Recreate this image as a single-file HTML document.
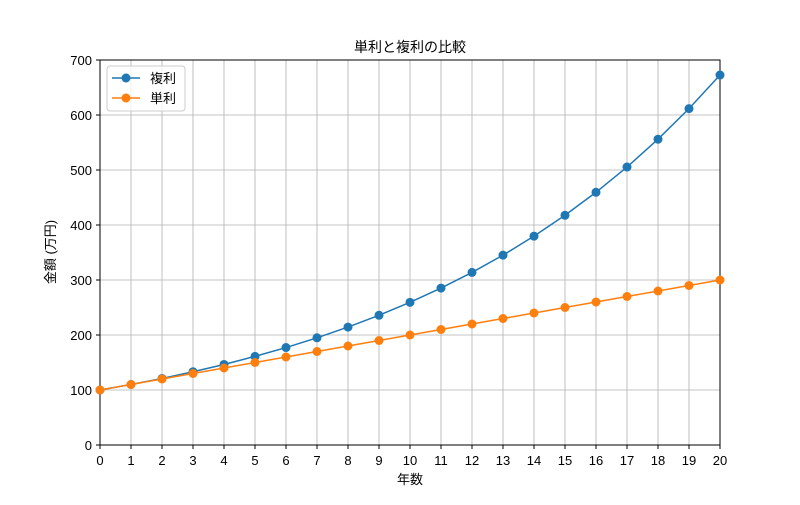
<!DOCTYPE html>
<html><head><meta charset="utf-8"><style>
body{margin:0;background:#fff}
svg text{font-family:"Liberation Sans","Noto Sans CJK JP",sans-serif;fill:#000}
</style></head><body>
<svg id="chart" width="800" height="500" xmlns="http://www.w3.org/2000/svg">
<rect width="800" height="500" fill="#fff"/>
<g id="grid"></g>
<g id="axes"></g>
<g id="series"></g>
<text x="410" y="52" text-anchor="middle" font-size="14">単利と複利の比較</text>
<text x="410" y="484" text-anchor="middle" font-size="13">年数</text>
<text x="0" y="0" transform="translate(55,252) rotate(-90)" text-anchor="middle" font-size="13">金額 (万円)</text>
<g>
<rect x="107" y="66" width="78" height="45" rx="3" fill="#fff" fill-opacity="0.8" stroke="#ccc"/>
<g>
<line x1="112" y1="78" x2="140" y2="78" stroke="#1f77b4" stroke-width="1.5"/><circle cx="126" cy="78" r="4.5" fill="#1f77b4"/>
<text x="150" y="83" font-size="13">複利</text></g>
<g>
<line x1="112" y1="98" x2="140" y2="98" stroke="#ff7f0e" stroke-width="1.5"/><circle cx="126" cy="98" r="4.5" fill="#ff7f0e"/>
<text x="150" y="103" font-size="13">単利</text></g>
</g>
</svg>
<script>
const years=[0,1,2,3,4,5,6,7,8,9,10,11,12,13,14,15,16,17,18,19,20];
const compound=[100,110,121,133.1,146.4,161.1,177.2,194.9,214.4,235.8,259.4,285.3,313.8,345.2,379.7,417.7,459.5,505.4,556.0,611.6,672.7];
const simple=[100,110,120,130,140,150,160,170,180,190,200,210,220,230,240,250,260,270,280,290,300];
const yTicks=[0,100,200,300,400,500,600,700];
const NS="http://www.w3.org/2000/svg";
const L=100,R=720,T=60,B=445;
const xs=v=>L+(v-0)/(20-0)*(R-L);
const ys=v=>B-(v/700)*(B-T);
function mk(tag,attrs,parent){const e=document.createElementNS(NS,tag);for(const k in attrs)e.setAttribute(k,attrs[k]);parent.appendChild(e);return e;}
const grid=document.getElementById('grid'),axes=document.getElementById('axes'),ser=document.getElementById('series');
years.forEach(v=>{
 const g=mk('line',{x1:xs(v),x2:xs(v),y1:T,y2:B,stroke:'#b0b0b0','stroke-width':0.8},grid);
 
 
 mk('line',{x1:xs(v),x2:xs(v),y1:B,y2:B+4,stroke:'#000'},axes);
 const t=mk('text',{x:xs(v),y:B+20,'text-anchor':'middle','font-size':13},axes);t.textContent=v;
 
 
});
yTicks.forEach(v=>{
 const g=mk('line',{x1:L,x2:R,y1:ys(v),y2:ys(v),stroke:'#b0b0b0','stroke-width':0.8},grid);
 
 
 mk('line',{x1:L-4,x2:L,y1:ys(v),y2:ys(v),stroke:'#000'},axes);
 const t=mk('text',{x:L-8,y:ys(v)+5,'text-anchor':'end','font-size':13},axes);t.textContent=v;
 
 
});
mk('rect',{x:L,y:T,width:R-L,height:B-T,fill:'none',stroke:'#000','stroke-width':1},axes);
function series(vals,color,name){
 const g=mk('g',{},ser);
 
 
 mk('polyline',{points:vals.map((v,i)=>xs(years[i])+','+ys(v)).join(' '),fill:'none',stroke:color,'stroke-width':1.5},g);
 vals.forEach((v,i)=>{const c=mk('circle',{cx:xs(years[i]),cy:ys(v),r:4.5,fill:color},g);
  
  });
}
series(compound,'#1f77b4','compound-series');
series(simple,'#ff7f0e','simple-series');
</script>
</body></html>
